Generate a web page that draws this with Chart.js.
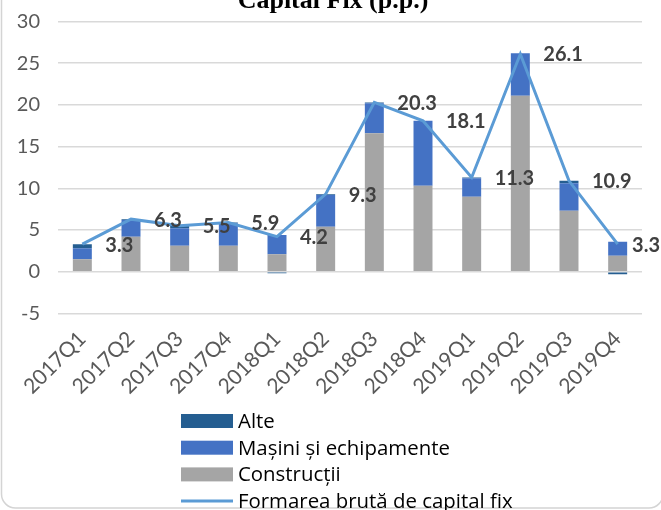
<!DOCTYPE html>
<html>
<head>
<meta charset="utf-8">
<script src="https://cdn.jsdelivr.net/npm/chart.js@4/dist/chart.umd.min.js"></script>
<style>
  html, body { margin: 0; padding: 0; background: #ffffff; }
  #wrap { width: 661px; height: 510px; position: relative; }
</style>
</head>
<body>
<div id="wrap"><canvas id="c" width="661" height="510"></canvas></div>
<script>
const categories = ['2017Q1','2017Q2','2017Q3','2017Q4','2018Q1','2018Q2','2018Q3','2018Q4','2019Q1','2019Q2','2019Q3','2019Q4'];
const constructii = [1.5, 4.2, 3.1, 3.1, 2.1, 5.4, 16.6, 10.3, 9.0, 21.1, 7.3, 1.9];
const masini      = [1.3, 2.0, 2.1, 2.7, 2.3, 3.8, 3.6, 7.8, 2.2, 5.1, 3.3, 1.7];
const alte        = [0.5, 0.1, 0.3, 0.1, -0.2, 0.1, 0.1, 0.0, 0.1, -0.1, 0.3, -0.3];
const fbcf        = [3.3, 6.3, 5.5, 5.9, 4.2, 9.3, 20.3, 18.1, 11.3, 26.1, 10.9, 3.3];
const yTicks      = [-5, 0, 5, 10, 15, 20, 25, 30];
const titleText   = 'Capital Fix (p.p.)';

const FONT = 'Lato, "Open Sans", sans-serif';
const LEGEND_FONT = '"Open Sans", Lato, sans-serif';

const framePlugin = {
  id: 'frame',
  beforeDraw(chart) {
    const ctx = chart.ctx;
    ctx.save();
    ctx.fillStyle = '#ffffff';
    ctx.fillRect(0, 0, chart.width, chart.height);
    ctx.strokeStyle = '#d4d4d4';
    ctx.lineWidth = 1.5;
    const l = 1.5, r = 663, b = 508, rad = 14;
    ctx.beginPath();
    ctx.moveTo(l, -10);
    ctx.lineTo(l, b - rad);
    ctx.arcTo(l, b, l + rad, b, rad);
    ctx.lineTo(r - rad, b);
    ctx.arcTo(r, b, r, b - rad, rad);
    ctx.lineTo(r, -10);
    ctx.stroke();
    ctx.fillStyle = '#000000';
    ctx.font = 'bold 26px "Liberation Serif", serif';
    ctx.textAlign = 'center';
    ctx.textBaseline = 'alphabetic';
    ctx.fillText(titleText, 333, 8);
    ctx.restore();
  }
};

const labelPlugin = {
  id: 'lineLabels',
  afterDatasetsDraw(chart) {
    const ctx = chart.ctx;
    const meta = chart.getDatasetMeta(3);
    ctx.save();
    ctx.font = 'bold 20px ' + FONT;
    ctx.fillStyle = '#404040';
    ctx.textAlign = 'left';
    ctx.textBaseline = 'middle';
    meta.data.forEach((pt, i) => {
      const txt = fbcf[i].toFixed(1);
      const w = ctx.measureText(txt).width;
      let x = pt.x + 23;
      if (x + w > chart.width - 1) x = chart.width - 1 - w;
      ctx.fillText(txt, x, pt.y + 1);
    });
    ctx.restore();
  }
};

const legendPlugin = {
  id: 'customLegend',
  afterDraw(chart) {
    const ctx = chart.ctx;
    const items = [2, 1, 0, 3].map(i => chart.data.datasets[i]);
    ctx.save();
    ctx.font = '20.4px ' + LEGEND_FONT;
    ctx.textAlign = 'left';
    ctx.textBaseline = 'middle';
    const x0 = 181, bw = 52, bh = 14, tx = 238;
    items.forEach((ds, k) => {
      const cy = 421 + k * 26.7;
      if (ds.type === 'line') {
        ctx.strokeStyle = ds.borderColor;
        ctx.lineWidth = 3;
        ctx.beginPath();
        ctx.moveTo(x0, cy);
        ctx.lineTo(x0 + bw, cy);
        ctx.stroke();
      } else {
        ctx.fillStyle = ds.backgroundColor;
        ctx.fillRect(x0, cy - bh / 2, bw, bh);
      }
      ctx.fillStyle = '#000000';
      ctx.fillText(ds.label, tx, cy + 1);
    });
    ctx.restore();
  }
};

new Chart(document.getElementById('c'), {
  data: {
    labels: categories,
    datasets: [
      { type: 'bar', label: 'Construcții', data: constructii, backgroundColor: '#A5A5A5', stack: 'bars', order: 1 },
      { type: 'bar', label: 'Mașini și echipamente', data: masini, backgroundColor: '#4472C4', stack: 'bars', order: 1 },
      { type: 'bar', label: 'Alte', data: alte, backgroundColor: '#255E91', stack: 'bars', order: 1 },
      { type: 'line', label: 'Formarea brută de capital fix', data: fbcf, borderColor: '#5B9BD5', borderWidth: 3,
        pointRadius: 0, tension: 0, fill: false, stack: 'line', order: 0 }
    ]
  },
  options: {
    responsive: false,
    animation: false,
    events: [],
    layout: { padding: { left: 0, right: 19, top: 21.5, bottom: 0 } },
    datasets: { bar: { categoryPercentage: 1.0, barPercentage: 0.39 } },
    plugins: { legend: { display: false }, tooltip: { enabled: false }, title: { display: false } },
    scales: {
      x: {
        stacked: true,
        grid: { display: false, drawTicks: false },
        border: { display: false },
        ticks: { color: '#595959', font: { family: FONT, size: 21 }, minRotation: 45, maxRotation: 45, padding: 13, autoSkip: false },
        afterFit(s) { s.height = 196.6; }
      },
      y: {
        stacked: true,
        min: -5, max: 30,
        afterBuildTicks(s) { s.ticks = yTicks.map(v => ({ value: v })); },
        grid: { color: '#d9d9d9', lineWidth: 1.5, drawTicks: false },
        border: { display: false },
        ticks: { color: '#595959', font: { family: FONT, size: 20 }, padding: 18 },
        afterFit(s) { s.width = 58; s.paddingTop = 8; s.paddingBottom = 8; }
      }
    }
  },
  plugins: [framePlugin, labelPlugin, legendPlugin]
});
</script>
</body>
</html>
